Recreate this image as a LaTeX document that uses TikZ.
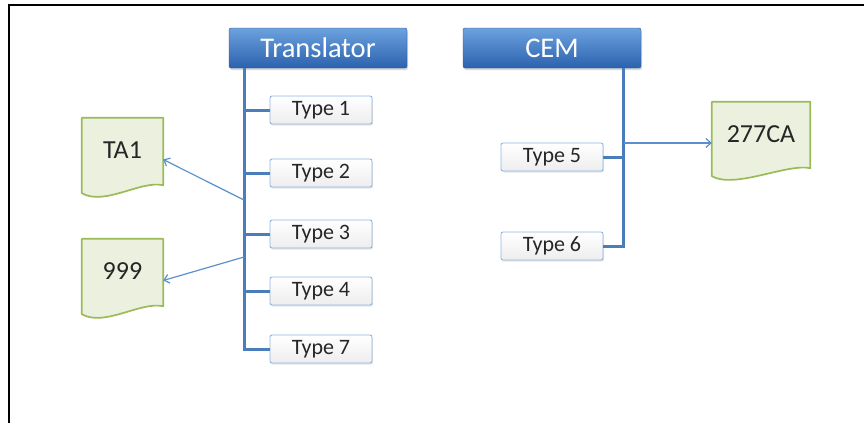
\documentclass[tikz,border=0pt]{standalone}
\usepackage{fontspec}
\setmainfont{Carlito}
\usetikzlibrary{shadows,arrows.meta,backgrounds}
\definecolor{hdrtop}{HTML}{6CA2DE}
\definecolor{hdrbot}{HTML}{2B62AE}
\definecolor{typeline}{HTML}{8EB4E3}
\definecolor{trunkblue}{HTML}{4A7EBB}
\definecolor{linkblue}{HTML}{5B8FD0}
\definecolor{docfill}{HTML}{EBF1DE}
\definecolor{docline}{HTML}{9BBB59}
\tikzstyle{header}=[rectangle,rounded corners=2pt,top color=hdrtop,bottom color=hdrbot,draw=hdrbot!85!black,text=white,minimum width=178pt,minimum height=40pt,inner sep=0pt,font=\fontsize{28.5}{30}\selectfont,drop shadow={opacity=0.3,shadow xshift=1pt,shadow yshift=-2pt}]
\tikzstyle{typebox}=[rectangle,rounded corners=2pt,top color=white,bottom color=gray!14,draw=typeline,line width=0.9pt,minimum width=102pt,minimum height=28pt,inner sep=0pt,text=black!85,font=\fontsize{22}{24}\selectfont,drop shadow={opacity=0.2,shadow xshift=1pt,shadow yshift=-1.5pt}]
\tikzstyle{docbox}=[rectangle,inner sep=0pt,text=black!85,font=\fontsize{26}{28}\selectfont]
\tikzstyle{doc}=[fill=docfill,draw=docline,line width=1.7pt,line join=round]
\tikzstyle{trunk}=[draw=trunkblue,line width=3pt]
\tikzstyle{link}=[-{Straight Barb[length=5pt,width=9pt]},draw=linkblue,line width=1.2pt]
% document outline with wavy bottom, behind the node
\newcommand{\docshape}[1]{%
\begin{pgfonlayer}{background}
\draw[doc] (#1.north west) -- (#1.north east) -- ([yshift=-2pt]#1.south east)
  .. controls ([xshift=-23pt,yshift=3pt]#1.south east) and ([xshift=23pt,yshift=-23pt]#1.south west) .. ([yshift=-10pt]#1.south west) -- cycle;
\end{pgfonlayer}}

\begin{document}
\begin{tikzpicture}[x=1pt,y=-1pt]
\useasboundingbox (0,0) rectangle (864,423);
\draw[line width=2.5pt] (9,423) -- (9,5) -- (864,5);

\node[header] (translator) at (318,48) {Translator};
\node[header] (cem)        at (552,48) {CEM};

\node[typebox] (type1) at (321,110) {Type 1};
\node[typebox] (type2) at (321,173) {Type 2};
\node[typebox] (type3) at (321,234) {Type 3};
\node[typebox] (type4) at (321,291) {Type 4};
\node[typebox] (type7) at (321,349) {Type 7};
\node[typebox] (type5) at (552,157) {Type 5};
\node[typebox] (type6) at (552,246) {Type 6};

\node[docbox,minimum width=81pt,minimum height=65pt] (ta1)   at (122.5,150.5) {TA1};
\node[docbox,minimum width=81pt,minimum height=65pt] (d999)  at (122.5,271.5) {999};
\node[docbox,minimum width=98pt,minimum height=64pt] (ca277) at (761,134)     {277CA};
\docshape{ta1}
\docshape{d999}
\docshape{ca277}

\coordinate (tbase) at ([xshift=16pt]translator.south west);
\coordinate (cbase) at ([xshift=-18pt]cem.south east);

\draw[trunk] (tbase) |- (type7.west);
\draw[trunk] (tbase |- type1.west) -- (type1.west);
\draw[trunk] (tbase |- type2.west) -- (type2.west);
\draw[trunk] (tbase |- type3.west) -- (type3.west);
\draw[trunk] (tbase |- type4.west) -- (type4.west);
\draw[trunk] (cbase) |- (type6.east);
\draw[trunk] (cbase |- type5.east) -- (type5.east);

\coordinate (ta1src)  at (244,200);
\coordinate (d999src) at (244,257);
\coordinate (ca277src) at (624,143);
\draw[link] (ta1src) -- ([yshift=-9pt]ta1.east);
\draw[link] (d999src) -- ([yshift=-9pt]d999.east);
\draw[link] (ca277src) -- ([yshift=-9pt]ca277.west);

\end{tikzpicture}
\end{document}
